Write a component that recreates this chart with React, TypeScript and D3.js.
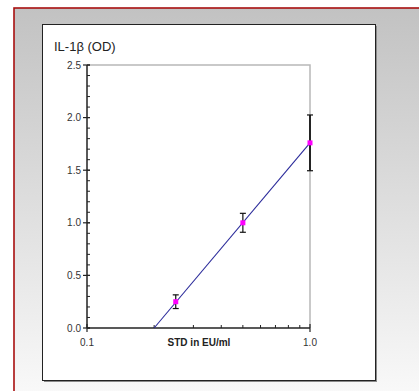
import React, { useEffect, useRef } from 'react';
import * as d3 from 'd3';

// standards (EU/ml) and measured OD
const stdConc = [0.25, 0.5, 1.0];
const odMean = [0.25, 1.0, 1.76];
const odErr = [0.065, 0.09, 0.265];

// fitted standard curve
const fitConc = [0.2, 1.0];
const fitOd = [0, 1.76];

const yTicks = [0, 0.5, 1.0, 1.5, 2.0, 2.5];
const yMinor = d3.range(0, 2.51, 0.1);
const xTicks = [0.1, 1.0];
const xMinor = [0.2, 0.3, 0.4, 0.5, 0.6, 0.7, 0.8, 0.9];

const App = () => {
  const ref = useRef<SVGSVGElement>(null);

  useEffect(() => {
    if (!ref.current) return;
    const svg = d3.select(ref.current);
    svg.selectAll('*').remove();

    const W = 419, H = 391;
    const plot = { left: 87, right: 310, top: 65, bottom: 328 };

    const defs = svg.append('defs');
    const grad = defs.append('linearGradient')
      .attr('id', 'bg').attr('x1', 0).attr('y1', 0).attr('x2', 0).attr('y2', 1);
    grad.append('stop').attr('offset', '0%').attr('stop-color', '#c2c2c2');
    grad.append('stop').attr('offset', '100%').attr('stop-color', '#fbfbfb');

    // outer frame
    svg.append('rect').attr('width', W).attr('height', H).attr('fill', '#fff');
    svg.append('rect')
      .attr('x', 14).attr('y', 8).attr('width', W + 10).attr('height', H + 10)
      .attr('fill', 'url(#bg)')
      .attr('stroke', '#a81010').attr('stroke-width', 1.6);

    // white panel with shadow
    svg.append('rect')
      .attr('x', 44).attr('y', 26).attr('width', 333).attr('height', 356)
      .attr('fill', '#8a8a8a');
    svg.append('rect')
      .attr('x', 42.5).attr('y', 24.5).attr('width', 333).attr('height', 356)
      .attr('fill', '#fff').attr('stroke', '#222').attr('stroke-width', 1);

    const x = d3.scaleLog().domain([0.1, 1.0]).range([plot.left, plot.right]);
    const y = d3.scaleLinear().domain([0, 2.5]).range([plot.bottom, plot.top]);

    // plot frame top and right
    svg.append('path')
      .attr('d', `M${plot.left},${plot.top}H${plot.right}V${plot.bottom}`)
      .attr('fill', 'none').attr('stroke', '#b8b8b8').attr('stroke-width', 1.5);

    const font = 'Liberation Sans, Arial, sans-serif';

    // y axis
    const ya = svg.append('g');
    ya.append('line')
      .attr('x1', plot.left).attr('x2', plot.left)
      .attr('y1', plot.top).attr('y2', plot.bottom)
      .attr('stroke', '#222').attr('stroke-width', 1.5);
    ya.selectAll('.minor').data(yMinor).enter().append('line')
      .attr('x1', plot.left).attr('x2', plot.left + 3)
      .attr('y1', d => y(d)).attr('y2', d => y(d))
      .attr('stroke', '#222');
    ya.selectAll('.major').data(yTicks).enter().append('line')
      .attr('x1', plot.left - 4).attr('x2', plot.left + 3)
      .attr('y1', d => y(d)).attr('y2', d => y(d))
      .attr('stroke', '#222').attr('stroke-width', 1.2);
    ya.selectAll('text').data(yTicks).enter().append('text')
      .attr('x', plot.left - 6).attr('y', d => y(d) + 3.5)
      .attr('text-anchor', 'end')
      .style('font-family', font).style('font-size', '10px').style('fill', '#333')
      .text(d => d.toFixed(1));

    // x axis
    const xa = svg.append('g');
    xa.append('line')
      .attr('x1', plot.left).attr('x2', plot.right)
      .attr('y1', plot.bottom).attr('y2', plot.bottom)
      .attr('stroke', '#222').attr('stroke-width', 1.5);
    xa.selectAll('.minor').data(xMinor).enter().append('line')
      .attr('x1', d => x(d)).attr('x2', d => x(d))
      .attr('y1', plot.bottom).attr('y2', plot.bottom - 3)
      .attr('stroke', '#222');
    xa.selectAll('.major').data(xTicks).enter().append('line')
      .attr('x1', d => x(d)).attr('x2', d => x(d))
      .attr('y1', plot.bottom + 4).attr('y2', plot.bottom - 4)
      .attr('stroke', '#222').attr('stroke-width', 1.2);
    xa.selectAll('text').data(xTicks).enter().append('text')
      .attr('x', d => x(d)).attr('y', plot.bottom + 18)
      .attr('text-anchor', 'middle')
      .style('font-family', font).style('font-size', '10px').style('fill', '#333')
      .text(d => d.toFixed(1));

    // titles
    svg.append('text')
      .attr('x', 199).attr('y', plot.bottom + 18)
      .attr('text-anchor', 'middle')
      .style('font-family', font).style('font-size', '10px').style('font-weight', 'bold')
      .style('fill', '#222')
      .text('STD in EU/ml');
    svg.append('text')
      .attr('x', 54).attr('y', 51)
      .style('font-family', font).style('font-size', '13px').style('fill', '#222')
      .text('IL-1β (OD)');

    // fit line
    const line = d3.line<number>()
      .x((d, i) => x(fitConc[i]))
      .y(d => y(d));
    svg.append('path')
      .datum(fitOd)
      .attr('d', line)
      .attr('fill', 'none').attr('stroke', '#2a2a9a').attr('stroke-width', 1.1);

    // error bars
    const pts = stdConc.map((c, i) => ({ c, m: odMean[i], e: odErr[i] }));
    const eb = svg.append('g').selectAll('g').data(pts).enter().append('g');
    eb.append('line')
      .attr('x1', d => x(d.c)).attr('x2', d => x(d.c))
      .attr('y1', d => y(d.m + d.e)).attr('y2', d => y(d.m - d.e))
      .attr('stroke', '#111').attr('stroke-width', (d, i) => i === 2 ? 1.8 : 1.2);
    [1, -1].forEach(s => {
      eb.append('line')
        .attr('x1', d => x(d.c) - 3).attr('x2', d => x(d.c) + 3)
        .attr('y1', d => y(d.m + s * d.e)).attr('y2', d => y(d.m + s * d.e))
        .attr('stroke', '#111').attr('stroke-width', 1.2);
    });

    // markers
    svg.append('g').selectAll('rect').data(pts).enter().append('rect')
      .attr('x', d => x(d.c) - 2.5).attr('y', d => y(d.m) - 2.5)
      .attr('width', 5).attr('height', 5)
      .attr('fill', '#ff00ff');
  }, []);

  return (
    <div style={{ position: 'fixed', left: 0, top: 0 }}>
      <svg ref={ref} width={419} height={391} style={{ display: 'block' }} />
    </div>
  );
};

export default App;
